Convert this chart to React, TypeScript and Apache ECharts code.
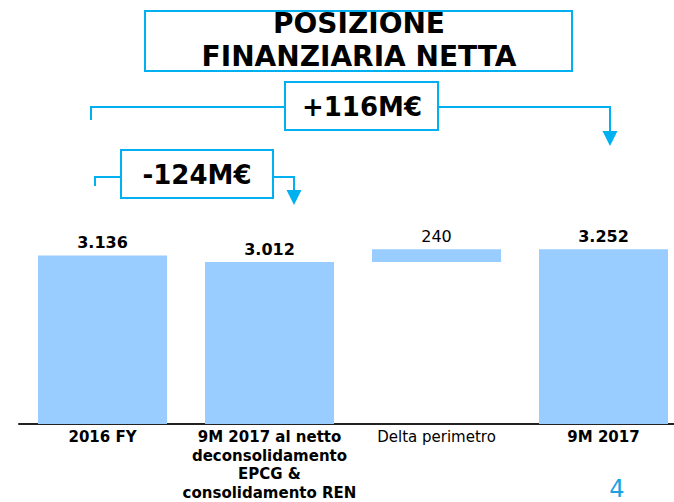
import React, { useEffect, useRef } from "react";
import * as echarts from "echarts";

const categories = [
  "2016 FY",
  "9M 2017 al netto\ndeconsolidamento\nEPCG &\nconsolidamento REN",
  "Delta perimetro",
  "9M 2017",
];
const baseValues = [0, 0, 3012, 0];
const barValues = [3136, 3012, 240, 3252];
const boldCategory = [true, true, false, true];
const titleLines = ["POSIZIONE", "FINANZIARIA NETTA"];
const bracketLabels = ["+116M€", "-124M€"];
const pageNumber = "4";

const FONT = "DejaVu Sans, Verdana, sans-serif";
const BLUE = "#00B0F0";
const BAR = "#99CCFF";

const fmt = (v: number) => String(v).replace(/\B(?=(\d{3})+(?!\d))/g, ".");

export default function App() {
  const ref = useRef<HTMLDivElement>(null);
  useEffect(() => {
    if (!ref.current) return;
    const chart = echarts.init(ref.current, null, { renderer: "svg" });
    const line = (points: number[][]) => ({
      type: "polyline",
      shape: { points },
      style: { stroke: BLUE, lineWidth: 2, fill: null },
      silent: true,
    });
    const tri = (cx: number, y: number) => ({
      type: "polygon",
      shape: { points: [[cx - 7.5, y], [cx + 7.5, y], [cx, y + 15]] },
      style: { fill: BLUE },
      silent: true,
    });
    const option: any = {
      animation: false,
      grid: {
        left: 19,
        top: 209,
        width: 668,
        bottom: 78,
        containLabel: false,
        outerBoundsMode: "none",
      },
      xAxis: {
        type: "category",
        data: categories.map((c, i) => ({
          value: c,
          textStyle: { fontWeight: boldCategory[i] ? "bold" : "normal" },
        })),
        axisLine: { show: true, lineStyle: { color: "#222", width: 2 } },
        axisTick: { show: false },
        axisLabel: {
          interval: 0,
          margin: 4,
          fontFamily: FONT,
          fontSize: 15,
          lineHeight: 18.5,
          color: "#000",
        },
      },
      yAxis: {
        type: "value",
        min: 0,
        max: 4000,
        show: false,
        splitLine: { show: false },
      },
      series: [
        {
          type: "bar",
          stack: "w",
          data: baseValues,
          itemStyle: { color: "transparent" },
          barWidth: 129,
          silent: true,
        },
        {
          type: "bar",
          stack: "w",
          barWidth: 129,
          data: barValues.map((v, i) => ({
            value: v,
            label: { fontWeight: boldCategory[i] ? "bold" : "normal" },
          })),
          itemStyle: { color: BAR },
          label: {
            show: true,
            position: "top",
            distance: 5,
            fontFamily: FONT,
            fontSize: 16,
            color: "#000",
            formatter: (p: any) => fmt(p.value),
          },
        },
      ],
      graphic: [
        {
          type: "rect",
          shape: { x: 145, y: 11, width: 427, height: 60 },
          style: { stroke: BLUE, lineWidth: 2, fill: "#fff" },
        },
        {
          type: "text",
          x: 359,
          y: 40,
          style: {
            text: titleLines.join("\n"),
            fontFamily: FONT,
            fontWeight: "bold",
            fontSize: 28,
            lineHeight: 33,
            fill: "#000",
            align: "center",
            verticalAlign: "middle",
          },
        },
        line([[91, 120], [91, 107], [285, 107]]),
        line([[438, 107], [610, 107], [610, 132]]),
        tri(610, 131),
        {
          type: "rect",
          shape: { x: 285, y: 82, width: 153, height: 48 },
          style: { stroke: BLUE, lineWidth: 2, fill: "#fff" },
        },
        {
          type: "text",
          x: 362,
          y: 107,
          style: {
            text: bracketLabels[0],
            fontFamily: FONT,
            fontWeight: "bold",
            fontSize: 26,
            fill: "#000",
            align: "center",
            verticalAlign: "middle",
          },
        },
        line([[95, 186], [95, 177], [121, 177]]),
        line([[273, 177], [294, 177], [294, 191]]),
        tri(294, 190),
        {
          type: "rect",
          shape: { x: 121, y: 150, width: 152, height: 48 },
          style: { stroke: BLUE, lineWidth: 2, fill: "#fff" },
        },
        {
          type: "text",
          x: 197,
          y: 175,
          style: {
            text: bracketLabels[1],
            fontFamily: FONT,
            fontWeight: "bold",
            fontSize: 26,
            fill: "#000",
            align: "center",
            verticalAlign: "middle",
          },
        },
        {
          type: "text",
          x: 617,
          y: 489,
          style: {
            text: pageNumber,
            fontFamily: FONT,
            fontWeight: "normal",
            fontSize: 24,
            fill: "#1BA1E2",
            align: "center",
            verticalAlign: "middle",
          },
        },
      ],
    };
    chart.setOption(option);
    return () => chart.dispose();
  }, []);
  return (
    <div
      ref={ref}
      style={{ position: "fixed", left: 0, top: 0, width: 674, height: 502, background: "#fff" }}
    />
  );
}
